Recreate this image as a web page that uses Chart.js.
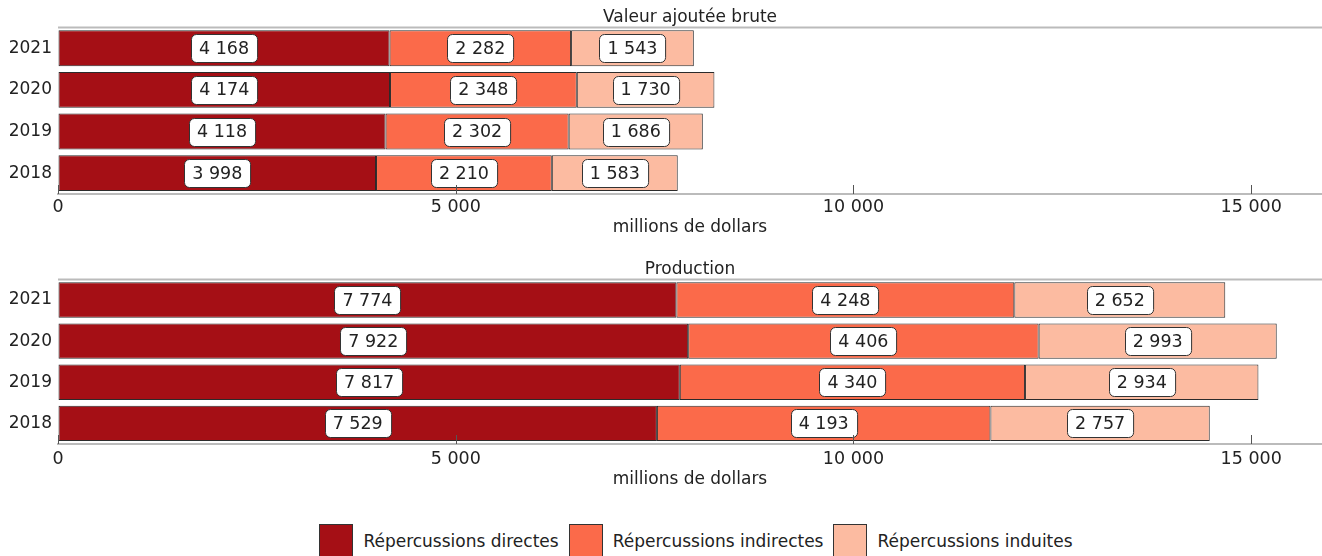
<!DOCTYPE html>
<html lang="fr">
<head>
<meta charset="utf-8">
<script src="https://cdn.jsdelivr.net/npm/chart.js@4"></script>
<style>
  body { margin: 0; background: #fff; font-family: "DejaVu Sans", Verdana, sans-serif; }
  #wrap { position: relative; width: 1322px; height: 556px; overflow: hidden; }
  .chart { position: absolute; left: 0; width: 1322px; height: 240px; }
  #c1 { top: 0; }
  #c2 { top: 252px; }
  #legend { position: absolute; left: 70px; right: 0; top: 524px; display: flex; justify-content: center; font-size: 17px; color: #222; }
  .item { display: flex; align-items: center; margin: 0 5px; }
  .box { width: 32px; height: 32px; border: 1px solid #333; margin-right: 10px; }
</style>
</head>
<body>
<div id="wrap">
  <div class="chart" id="c1"><canvas id="vab"></canvas></div>
  <div class="chart" id="c2"><canvas id="prod"></canvas></div>
  <div id="legend"></div>
</div>
<script>
// --- Données ---
const years = ['2021', '2020', '2019', '2018'];
const seriesNames = ['Répercussions directes', 'Répercussions indirectes', 'Répercussions induites'];
const seriesColors = ['#a50f15', '#fb6a4a', '#fcbba1'];

const vabDirect = [4168, 4174, 4118, 3998];
const vabIndirect = [2282, 2348, 2302, 2210];
const vabInduced = [1543, 1730, 1686, 1583];

const prodDirect = [7774, 7922, 7817, 7529];
const prodIndirect = [4248, 4406, 4340, 4193];
const prodInduced = [2652, 2993, 2934, 2757];

const xTicks = [0, 5000, 10000, 15000];
const xMax = 15890;

const FONT = '"DejaVu Sans", Verdana, sans-serif';
const fmt = v => String(v).replace(/\B(?=(\d{3})+(?!\d))/g, ' ');

// étiquettes de valeur dans des boîtes blanches arrondies
const valueBoxes = {
    id: 'valueBoxes',
    afterDatasetsDraw(chart) {
        const ctx = chart.ctx;
        ctx.save();
        ctx.font = '17.5px ' + FONT;
        ctx.textAlign = 'center';
        ctx.textBaseline = 'middle';
        chart.data.datasets.forEach((ds, i) => {
            chart.getDatasetMeta(i).data.forEach((bar, j) => {
                const { x, y, base } = bar.getProps(['x', 'y', 'base'], true);
                const cx = (x + base) / 2;
                const txt = fmt(ds.data[j]);
                const w = ctx.measureText(txt).width + 16;
                const h = 28;
                ctx.beginPath();
                ctx.roundRect(Math.round(cx - w / 2) + 0.5, Math.round(y - h / 2) + 0.5, w, h, 5);
                ctx.fillStyle = '#fff';
                ctx.fill();
                ctx.strokeStyle = '#333';
                ctx.lineWidth = 1;
                ctx.stroke();
                ctx.fillStyle = '#222';
                ctx.fillText(txt, cx, y + 1);
            });
        });
        ctx.restore();
    }
};

// ligne grise en haut et petites graduations vers l'intérieur
const frame = {
    id: 'frame',
    afterDraw(chart) {
        const { ctx, chartArea } = chart;
        const xs = chart.scales.x;
        ctx.save();
        ctx.strokeStyle = '#bbb';
        ctx.lineWidth = 2;
        ctx.beginPath();
        ctx.moveTo(chartArea.left, chartArea.top);
        ctx.lineTo(chartArea.right, chartArea.top);
        ctx.stroke();
        ctx.strokeStyle = '#555';
        ctx.lineWidth = 1;
        xs.ticks.forEach(t => {
            const px = Math.round(xs.getPixelForValue(t.value)) + 0.5;
            ctx.beginPath();
            ctx.moveTo(px, chartArea.bottom);
            ctx.lineTo(px, chartArea.bottom - 9);
            ctx.stroke();
        });
        ctx.restore();
    }
};

function makeChart(canvasId, title, d1, d2, d3, axisHeight, tickPad) {
    const values = [d1, d2, d3];
    return new Chart(document.getElementById(canvasId), {
        type: 'bar',
        data: {
            labels: years,
            datasets: seriesNames.map((name, i) => ({
                label: name,
                data: values[i],
                backgroundColor: seriesColors[i],
                borderColor: '#2b2b2b',
                borderWidth: 1,
                borderSkipped: false,
                barPercentage: 0.86,
                categoryPercentage: 1
            }))
        },
        options: {
            indexAxis: 'y',
            responsive: true,
            maintainAspectRatio: false,
            animation: false,
            layout: { padding: 0 },
            scales: {
                x: {
                    stacked: true,
                    min: 0,
                    max: xMax,
                    afterBuildTicks: s => { s.ticks = xTicks.map(v => ({ value: v })); },
                    afterFit: s => { s.height = axisHeight; },
                    ticks: { padding: tickPad, color: '#222', font: { family: FONT, size: 17.5 }, callback: v => fmt(v) },
                    grid: { drawOnChartArea: false, drawTicks: false },
                    border: { display: true, color: '#bbb', width: 2 },
                    title: { display: true, text: 'millions de dollars', color: '#222', font: { family: FONT, size: 17 }, padding: { top: 0, bottom: 2 } }
                },
                y: {
                    stacked: true,
                    afterFit: s => { s.width = 58; },
                    ticks: { padding: 6, color: '#222', font: { family: FONT, size: 17 } },
                    grid: { display: false, drawTicks: false },
                    border: { display: false }
                }
            },
            plugins: {
                legend: { display: false },
                tooltip: { enabled: false },
                title: {
                    display: true, fullSize: false, text: title, color: '#222',
                    font: { family: FONT, size: 17, weight: 'normal' }, padding: { top: 7, bottom: 0 }
                }
            }
        },
        plugins: [valueBoxes, frame]
    });
}

makeChart('vab', 'Valeur ajoutée brute', vabDirect, vabIndirect, vabInduced, 46, 3);
makeChart('prod', 'Production', prodDirect, prodIndirect, prodInduced, 48, 5);

// légende commune
const legend = document.getElementById('legend');
seriesNames.forEach((name, i) => {
    const item = document.createElement('div');
    item.className = 'item';
    item.innerHTML = '<span class="box" style="background:' + seriesColors[i] + '"></span><span>' + name + '</span>';
    legend.appendChild(item);
});
</script>
</body>
</html>
